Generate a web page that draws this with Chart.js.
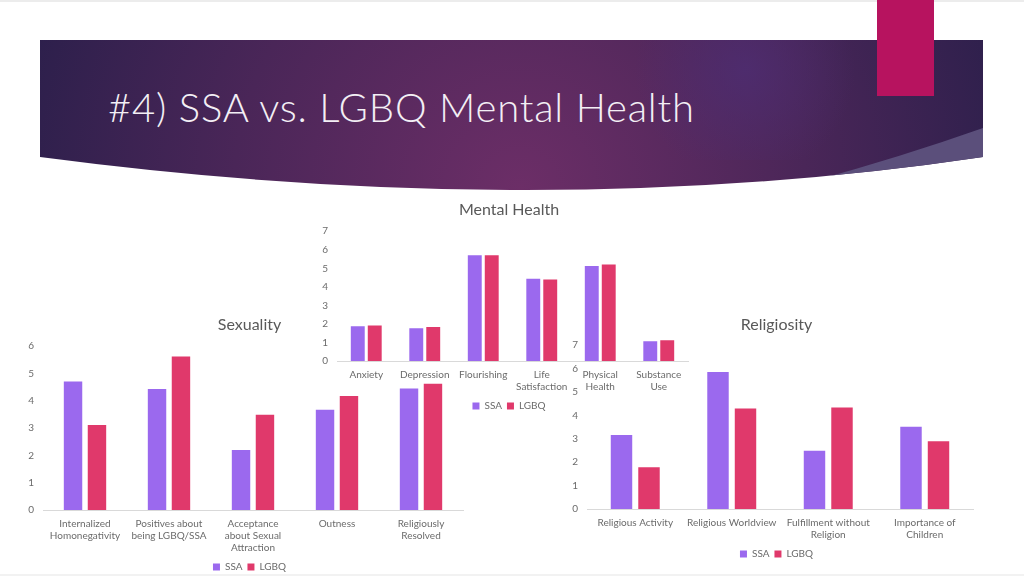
<!DOCTYPE html>
<html>
<head>
<meta charset="utf-8">
<script src="https://cdn.jsdelivr.net/npm/chart.js@4.4.1/dist/chart.umd.min.js"></script>
<style>
  html, body { margin: 0; padding: 0; background: #fff; }
  body { width: 1024px; height: 576px; position: relative; overflow: hidden; font-family: Lato, sans-serif; }
  #banner { position: absolute; left: 0; top: 0; }
  #heading { position: absolute; left: 108px; top: 83px; font: 300 40px Lato, sans-serif; letter-spacing: 0.8px; color: #f3eff5; white-space: nowrap; }
  .chartbox { position: absolute; }
  .edge { position: absolute; left: 0; width: 1024px; background: #ececec; }
</style>
</head>
<body>
<div class="edge" style="top:0;height:2px"></div>
<div class="edge" style="top:574px;height:2px;background:#f2f2f2"></div>

<svg id="banner" width="1024" height="200">
  <defs>
    <clipPath id="bannerClip">
      <path d="M40 40 L983 40 L983 157 Q540 223 40 157 Z"/>
    </clipPath>
    <radialGradient id="bannerGrad" gradientUnits="userSpaceOnUse" cx="520" cy="190" r="520">
      <stop offset="0" stop-color="#6c2e67"/>
      <stop offset="0.55" stop-color="#4a2658"/>
      <stop offset="1" stop-color="#2b1f4b"/>
    </radialGradient>
    <radialGradient id="glow" gradientUnits="userSpaceOnUse" cx="745" cy="70" r="110">
      <stop offset="0" stop-color="#4e2d72" stop-opacity="0.8"/>
      <stop offset="1" stop-color="#4e2d72" stop-opacity="0"/>
    </radialGradient>
  </defs>
  <g clip-path="url(#bannerClip)">
    <rect x="40" y="40" width="943" height="160" fill="url(#bannerGrad)"/>
    <rect x="600" y="0" width="300" height="160" fill="url(#glow)"/>
    <path d="M740 200 Q870 168 983 128 L983 200 Z" fill="#5b4f7b"/>
  </g>
  <rect x="877" y="0" width="57" height="96" fill="#b7135f"/>
</svg>
<div id="heading">#4) SSA vs. LGBQ Mental Health</div>

<div class="chartbox" style="left:10px;top:311px;width:466px;height:271px"><canvas id="sexChart" width="466" height="271"></canvas></div>
<div class="chartbox" style="left:555px;top:311px;width:430px;height:258px"><canvas id="relChart" width="430" height="258"></canvas></div>
<div class="chartbox" style="left:300px;top:196px;width:400px;height:225px"><canvas id="mentalChart" width="400" height="225"></canvas></div>

<script>
// Mental Health
const mentalLabels = ['Anxiety', 'Depression', 'Flourishing', ['Life', 'Satisfaction'], ['Physical', 'Health'], ['Substance', 'Use']];
const mentalSSA = [1.87, 1.76, 5.7, 4.44, 5.12, 1.07];
const mentalLGBQ = [1.92, 1.83, 5.7, 4.4, 5.2, 1.12];
const mentalMax = 7;

// Sexuality
const sexLabels = [['Internalized', 'Homonegativity'], ['Positives about', 'being LGBQ/SSA'], ['Acceptance', 'about Sexual', 'Attraction'], 'Outness', ['Religiously', 'Resolved']];
const sexSSA = [4.71, 4.43, 2.2, 3.67, 4.45];
const sexLGBQ = [3.11, 5.62, 3.49, 4.18, 4.62];
const sexMax = 6;

// Religiosity
const relLabels = ['Religious Activity', 'Religious Worldview', ['Fulfillment without', 'Religion'], ['Importance of', 'Children']];
const relSSA = [3.16, 5.85, 2.49, 3.51];
const relLGBQ = [1.78, 4.29, 4.34, 2.89];
const relMax = 7;

const seriesNames = ['SSA', 'LGBQ'];
const SSA_COLOR = '#9b69ee';
const LGBQ_COLOR = '#e0396b';
const TEXT_COLOR = '#6b6b6b';

Chart.defaults.font.family = 'Lato, sans-serif';
Chart.defaults.color = TEXT_COLOR;

function makeChart(id, title, labels, ssa, lgbq, yMax, cfg) {
  const ctx = document.getElementById(id);
  return new Chart(ctx, {
    type: 'bar',
    data: {
      labels,
      datasets: [
        { label: seriesNames[0], data: ssa, backgroundColor: SSA_COLOR },
        { label: seriesNames[1], data: lgbq, backgroundColor: LGBQ_COLOR }
      ]
    },
    options: {
      responsive: false,
      animation: false,
      layout: { padding: cfg.padding },
      datasets: { bar: { categoryPercentage: cfg.catPct, barPercentage: cfg.barPct } },
      plugins: {
        title: {
          display: true,
          text: title,
          color: '#595959',
          font: { size: 16, weight: 'normal' },
          padding: cfg.titlePad
        },
        legend: {
          display: true,
          position: 'bottom',
          labels: { boxWidth: 7, boxHeight: 7, padding: 5, font: { size: 10 }, color: TEXT_COLOR }
        },
        tooltip: { enabled: false }
      },
      scales: {
        x: {
          grid: { display: false },
          border: { display: true, color: '#d9d9d9' },
          ticks: { maxRotation: 0, autoSkip: false, font: { size: 10 }, padding: 0 },
          afterFit: s => { s.height = cfg.xHeight; }
        },
        y: {
          min: 0,
          max: yMax,
          grid: { display: false, drawTicks: false },
          border: { display: false },
          ticks: { stepSize: 1, font: { size: 10 }, padding: 9 },
          afterFit: s => { s.width = cfg.yWidth; }
        }
      }
    },
    plugins: [{
      // the original centres title and legend over the plot, a bit right of the canvas middle
      id: 'centreShift',
      afterLayout(chart) {
        [chart.titleBlock, chart.legend].forEach(box => {
          box.left += cfg.shift;
          box.right += cfg.shift;
        });
      }
    }]
  });
}

makeChart('sexChart', 'Sexuality', sexLabels, sexSSA, sexLGBQ, sexMax, {
  padding: { left: 6, right: 13, top: 0, bottom: 0 },
  titlePad: { top: 4, bottom: 12 },
  xHeight: 47, yWidth: 27, catPct: 0.57, barPct: 0.77, shift: 10
});

makeChart('relChart', 'Religiosity', relLabels, relSSA, relLGBQ, relMax, {
  padding: { left: 5, right: 12, top: 0, bottom: 0 },
  titlePad: { top: 4, bottom: 11 },
  xHeight: 35, yWidth: 27, catPct: 0.57, barPct: 0.78, shift: 10
});

makeChart('mentalChart', 'Mental Health', mentalLabels, mentalSSA, mentalLGBQ, mentalMax, {
  padding: { left: 10, right: 12, top: 0, bottom: 0 },
  titlePad: { top: 4, bottom: 12 },
  xHeight: 35, yWidth: 27, catPct: 0.58, barPct: 0.82, shift: 10
});
</script>
</body>
</html>
